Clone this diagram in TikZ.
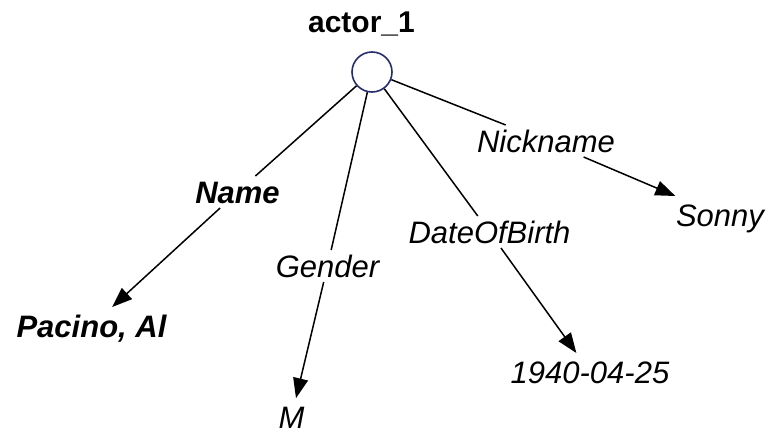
\documentclass[tikz,border=0pt]{standalone}
\usepackage{fontspec}
\setmainfont{Liberation Sans}
\usetikzlibrary{arrows.meta}
\definecolor{navy}{RGB}{40,44,110}
\begin{document}
\begin{tikzpicture}[x=1pt,y=-1pt,
  lbl/.style={font=\fontsize{31}{31}\selectfont\itshape, inner sep=5pt, outer sep=0pt, text height=22pt, text depth=0pt, anchor=base},
  val/.style={font=\fontsize{31}{31}\selectfont\itshape, inner sep=8pt, outer sep=0pt, text height=22pt, text depth=0pt, anchor=base},
  bolditalic/.style={font=\fontsize{31}{31}\selectfont\bfseries\itshape},
  conn/.style={line width=1.5pt, black},
  arr/.style={conn, -{Triangle[length=20pt,width=15pt]}},
  res/.style={circle, draw=navy, line width=1.6pt, fill=white, minimum size=40pt, inner sep=0pt}
]
\useasboundingbox (0,0) rectangle (769,436);
\node[font=\fontsize{30}{30}\selectfont\bfseries, anchor=base, inner sep=0pt] (title) at (361.5,33) {actor\_1};
\node[res] (c) at (372,72) {};
% labels
\node[lbl, bolditalic] (name) at (237.5,203) {Name};
\node[lbl] (gender) at (327.5,277) {Gender};
\node[lbl] (dob) at (489.5,243) {DateOfBirth};
\node[lbl] (nick) at (546,152) {Nickname};
% values
\node[val, bolditalic] (pacino) at (91.5,337) {Pacino, Al};
\node[val, inner sep=2pt] (m) at (291.5,428) {M};
\node[val] (date) at (590,383) {1940-04-25};
\node[val] (sonny) at (720,226) {Sonny};
% connectors
\draw[conn] (c) -- (name);
\draw[arr] (name) -- (pacino);
\draw[conn] (c) -- (gender);
\draw[arr, shorten >=6pt] (gender) -- (m);
\draw[conn] (c) -- (dob);
\draw[arr] (dob) -- (date);
\draw[conn] (c) -- (nick);
\draw[arr] (nick) -- (sonny);
\end{tikzpicture}
\end{document}
